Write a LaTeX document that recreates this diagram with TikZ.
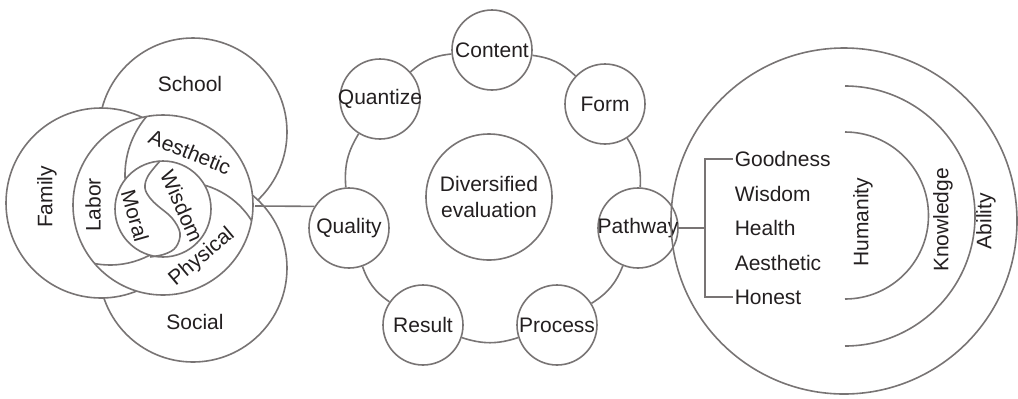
\documentclass[tikz,border=0pt]{standalone}
\usepackage{fontspec}
\setmainfont{Liberation Sans}
\definecolor{linegray}{RGB}{120,116,116}
\definecolor{textdark}{RGB}{35,31,32}

\begin{document}
\begin{tikzpicture}[x=0.5pt, y=0.5pt, line width=0.8pt,
		font=\fontsize{10.5}{12.6}\selectfont, text=textdark,
		disc/.style={circle, draw=linegray, fill=white, inner sep=0pt},
		ringnode/.style={circle, draw=linegray, fill=white, inner sep=0pt, minimum size=40pt},
		link/.style={draw=linegray},
		item/.style={anchor=west, inner sep=0.5pt}]
			\useasboundingbox (0,0) rectangle (1018,-398);
			
			% five-education cluster
			\node[disc, minimum size=94pt] (school) at (193,-132) {};
			\node[disc, minimum size=94pt] (social) at (193,-268) {};
			\node[disc, minimum size=95pt] (family) at (101,-203) {};
			\node[disc, minimum size=90pt] (core) at (163,-205) {};
			\begin{scope}
				\clip (163,-205) circle[radius=90];
				\draw[linegray] (215,-175) ++(135:90) arc[start angle=135, end angle=205, radius=90];
				\draw[linegray] (182,-264) ++(80:82) arc[start angle=80, end angle=20, radius=82];
				\draw[linegray] (110,-180) ++(245:85) arc[start angle=245, end angle=305, radius=85];
			\end{scope}
			\node[disc, minimum size=48pt] (yinyang) at (163,-209) {};
			\draw[linegray] plot[smooth, tension=0.6] coordinates {(160,-161) (148,-176) (145,-188) (150,-198) (158,-206) (172,-218) (180,-233) (176,-247) (165,-254) (150,-257)};
			
			\node (schooltxt) at (190,-84) {School};
			\node (socialtxt) at (195,-322) {Social};
			\node[rotate=90] (familytxt) at (47,-197) {Family};
			\node[rotate=90] (labortxt) at (93,-205) {Labor};
			\node[rotate=-22] (aesthtxt) at (190,-152) {Aesthetic};
			\node[rotate=40] (physictxt) at (202,-257) {Physical};
			\node[rotate=-74] (moraltxt) at (135,-216) {Moral};
			\node[rotate=-66] (wisdomtxt) at (182,-206) {Wisdom};
			\coordinate (lc) at (255,-206);
			
			% evaluation ring
			\node[disc, minimum size=63pt, align=center] (diverse) at (489,-197) {Diversified\\evaluation};
			\node[ringnode, label={center:Content}] (content) at (492,-50) {};
			\node[ringnode, label={center:Form}] (form) at (605,-104) {};
			\node[ringnode, label={center:Pathway}] (pathway) at (638,-228) {};
			\node[ringnode, label={center:Process}] (process) at (557,-325) {};
			\node[ringnode, label={center:Result}] (result) at (423,-325) {};
			\node[ringnode, label={center:Quality}] (quality) at (349,-228) {};
			\node[ringnode, label={center:Quantize}] (quantize) at (380,-99) {};
			
			\foreach \from/\to in {content/form,form/pathway,pathway/process,process/result,result/quality,quality/quantize,quantize/content}
			\draw[link] (\from) to[bend left=18] (\to);
			\draw[link] (lc) -- (quality.148);
			
			% quality cluster
			\node[circle, draw=linegray, inner sep=0pt, minimum size=173pt] (outer) at (844,-221) {};
			\draw[linegray] (845,-132) arc[start angle=90, end angle=-90, radius=83.5];
			\draw[linegray] (845,-86) arc[start angle=90, end angle=-90, radius=130];
			\node[rotate=90] (humanity) at (863,-222) {Humanity};
			\node[rotate=90] (knowledge) at (943,-220) {Knowledge};
			\node[rotate=90] (ability) at (986,-221) {Ability};
			
			\node[item] (goodness) at (733,-159) {Goodness};
			\node[item] (wisdomitem) at (733,-194) {Wisdom};
			\node[item] (health) at (733,-228) {Health};
			\node[item] (aesthitem) at (733,-263) {Aesthetic};
			\node[item] (honest) at (733,-297) {Honest};
			\coordinate (brk) at (705,-228);
			\draw[link] (goodness.west) -| (brk) |- (honest.west);
			\draw[link] (pathway) -- (brk);
		\end{tikzpicture}
\end{document}
